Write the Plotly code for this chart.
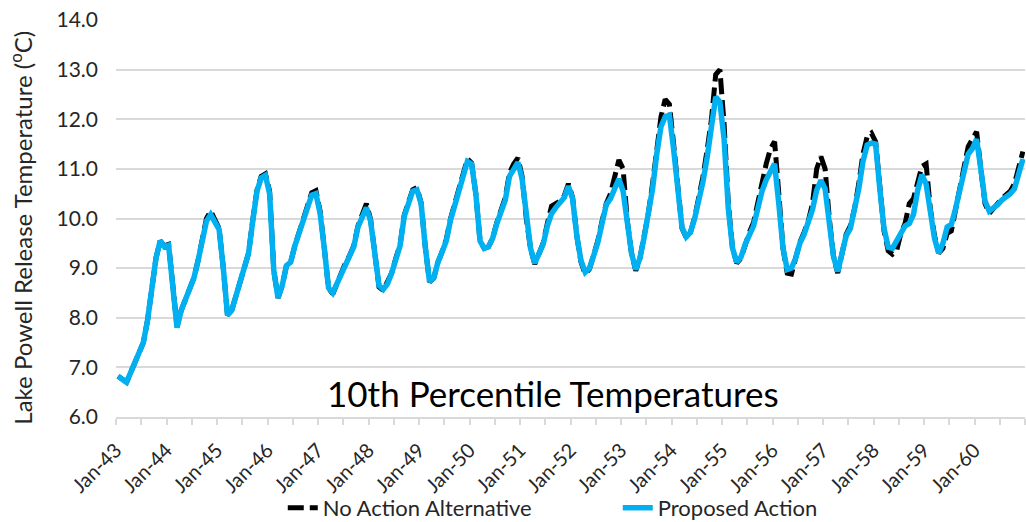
import plotly.graph_objects as go

years = list(range(43, 61))
months = ["Jan", "Feb", "Mar", "Apr", "May", "Jun", "Jul", "Aug", "Sep", "Oct", "Nov", "Dec"]
categories = [f"{m}-{y}" for y in years for m in months]

proposed_action = [
    6.82, 6.76, 6.70, 6.90, 7.10, 7.35, 7.50, 7.95, 8.65, 9.20, 9.55, 9.43,          # 1943
    9.46, 8.70, 7.80, 8.15, 8.35, 8.55, 8.80, 9.15, 9.60, 9.95, 10.08, 9.90,        # 1944
    9.78, 9.00, 8.05, 8.15, 8.45, 8.75, 9.00, 9.30, 9.95, 10.55, 10.82, 10.87,      # 1945
    10.50, 8.95, 8.40, 8.65, 9.05, 9.12, 9.45, 9.70, 9.95, 10.25, 10.47, 10.50,     # 1946
    10.10, 9.40, 8.60, 8.50, 8.70, 8.89, 9.10, 9.25, 9.43, 9.83, 10.00, 10.22,      # 1947
    9.95, 9.23, 8.65, 8.57, 8.68, 8.90, 9.15, 9.45, 10.05, 10.32, 10.55, 10.58,     # 1948
    10.30, 9.42, 8.73, 8.80, 9.12, 9.33, 9.55, 9.97, 10.25, 10.55, 10.85, 11.15,    # 1949
    11.10, 10.50, 9.55, 9.40, 9.43, 9.60, 9.90, 10.13, 10.37, 10.85, 11.02, 11.13,  # 1950
    10.80, 10.00, 9.40, 9.10, 9.30, 9.48, 9.85, 10.10, 10.22, 10.33, 10.42, 10.65,  # 1951
    10.40, 9.65, 9.15, 8.92, 9.00, 9.25, 9.52, 9.90, 10.28, 10.40, 10.60, 10.80,    # 1952
    10.55, 9.90, 9.30, 8.97, 9.20, 9.62, 10.05, 10.60, 11.30, 11.85, 12.05, 12.08,  # 1953
    11.40, 10.50, 9.82, 9.63, 9.72, 10.00, 10.35, 10.75, 11.25, 11.80, 12.45, 12.35,# 1954
    11.60, 10.20, 9.40, 9.12, 9.22, 9.48, 9.70, 9.85, 10.20, 10.55, 10.78, 10.95,   # 1955
    11.10, 10.30, 9.40, 8.97, 9.00, 9.20, 9.50, 9.68, 9.90, 10.18, 10.57, 10.77,    # 1956
    10.60, 9.90, 9.23, 8.93, 9.25, 9.65, 9.80, 10.15, 10.60, 11.15, 11.48, 11.52,   # 1957
    11.50, 10.60, 9.80, 9.42, 9.40, 9.55, 9.72, 9.85, 9.90, 10.08, 10.57, 10.88,    # 1958
    10.70, 10.10, 9.60, 9.30, 9.50, 9.83, 9.88, 10.20, 10.60, 11.00, 11.30, 11.41,  # 1959
    11.60, 11.00, 10.35, 10.15, 10.20, 10.28, 10.37, 10.43, 10.50, 10.60, 10.95, 11.20,  # 1960
]

no_action = [
    6.82, 6.76, 6.70, 6.90, 7.10, 7.35, 7.50, 7.95, 8.65, 9.20, 9.55, 9.45,          # 1943
    9.48, 8.70, 7.82, 8.15, 8.35, 8.55, 8.80, 9.15, 9.62, 10.00, 10.15, 9.95,       # 1944
    9.80, 9.00, 8.05, 8.15, 8.45, 8.75, 9.00, 9.30, 9.97, 10.57, 10.85, 10.90,      # 1945
    10.55, 8.95, 8.40, 8.65, 9.05, 9.12, 9.45, 9.72, 9.97, 10.28, 10.52, 10.56,     # 1946
    10.15, 9.40, 8.60, 8.48, 8.70, 8.89, 9.10, 9.25, 9.45, 9.85, 10.05, 10.30,      # 1947
    9.98, 9.23, 8.62, 8.55, 8.75, 8.90, 9.20, 9.47, 10.07, 10.35, 10.58, 10.62,     # 1948
    10.32, 9.42, 8.72, 8.80, 9.12, 9.33, 9.58, 10.00, 10.28, 10.60, 10.90, 11.20,   # 1949
    11.12, 10.50, 9.55, 9.40, 9.43, 9.60, 9.92, 10.15, 10.42, 10.92, 11.10, 11.22,  # 1950
    10.85, 10.00, 9.40, 9.08, 9.30, 9.50, 9.90, 10.25, 10.30, 10.35, 10.45, 10.70,  # 1951
    10.42, 9.65, 9.12, 8.88, 8.98, 9.25, 9.55, 9.95, 10.30, 10.50, 10.85, 11.18,    # 1952
    11.00, 9.95, 9.30, 8.95, 9.20, 9.65, 10.10, 10.70, 11.45, 12.05, 12.40, 12.30,  # 1953
    11.50, 10.55, 9.80, 9.62, 9.72, 10.02, 10.40, 10.85, 11.40, 12.00, 12.90, 13.00,# 1954
    11.90, 10.30, 9.40, 9.10, 9.20, 9.48, 9.72, 9.92, 10.35, 10.80, 11.10, 11.40,   # 1955
    11.55, 10.50, 9.40, 8.90, 8.88, 9.20, 9.52, 9.72, 9.95, 10.30, 11.00, 11.25,    # 1956
    11.00, 10.00, 9.23, 8.90, 9.25, 9.68, 9.85, 10.20, 10.70, 11.30, 11.65, 11.72,  # 1957
    11.55, 10.60, 9.75, 9.35, 9.28, 9.35, 9.70, 9.90, 10.30, 10.40, 10.70, 11.05,   # 1958
    11.10, 10.20, 9.65, 9.30, 9.40, 9.70, 9.75, 10.20, 10.65, 11.10, 11.45, 11.60,  # 1959
    11.75, 11.00, 10.30, 10.10, 10.22, 10.30, 10.40, 10.48, 10.55, 10.70, 11.05, 11.35,  # 1960
]

tick_labels = [f"Jan-{y}" for y in years]

x_idx = list(range(len(categories)))
tickvals = []
ticktext = []
for k, lab in enumerate(tick_labels):
    tickvals += [12 * k - 0.5, 12 * k + 5.5]
    ticktext += [lab, ""]
tickvals.append(len(categories) - 0.5)
ticktext.append("")

FONT = "Lato, 'Open Sans', sans-serif"

fig = go.Figure()
fig.add_trace(go.Scatter(
    x=x_idx, y=no_action, mode="lines", name="No Action Alternative",
    line=dict(color="#000000", width=5, dash="16px,6px"),
    customdata=categories,
))
fig.add_trace(go.Scatter(
    x=x_idx, y=proposed_action, mode="lines", name="Proposed Action",
    line=dict(color="#00B0F0", width=5.5),
    customdata=categories,
))

fig.update_layout(
    width=1026, height=522,
    margin=dict(l=116, r=1, t=20, b=105, autoexpand=False),
    paper_bgcolor="white", plot_bgcolor="white",
    font=dict(family=FONT, color="#262626"),
    showlegend=True,
    legend=dict(orientation="h", x=0.552, xanchor="center", y=-0.229, yanchor="middle",
                font=dict(size=22, color="#262626"), bgcolor="rgba(0,0,0,0)",
                entrywidth=290, entrywidthmode="pixels", tracegroupgap=0),
    xaxis=dict(
        range=[-0.5, len(categories) - 0.5],
        tickmode="array", tickvals=tickvals, ticktext=ticktext,
        tickangle=-45, tickfont=dict(size=20, color="#262626"),
        ticks="outside", ticklen=6, tickcolor="#d9d9d9", tickwidth=1.5,
        ticklabelstandoff=6,
        showgrid=False, showline=True, linecolor="#d9d9d9", linewidth=1.5,
        zeroline=False,
    ),
    yaxis=dict(
        range=[6, 14], dtick=1, tick0=6, tickformat=".1f",
        tickfont=dict(size=21, color="#262626"),
        showgrid=True, gridcolor="#d9d9d9", gridwidth=1.5,
        zeroline=False, showline=False, ticks="", ticklabelstandoff=17,
    ),
    annotations=[
        dict(text="10th Percentile Temperatures", x=0.481, y=0.06, xref="paper", yref="paper",
             xanchor="center", yanchor="middle", showarrow=False,
             font=dict(size=35, color="#000000")),
        dict(text="Lake Powell Release Temperature (<sup>o</sup>C)", x=-0.1045, y=0.477,
             xref="paper", yref="paper", xanchor="center", yanchor="middle", textangle=-90,
             showarrow=False, font=dict(size=24, color="#262626")),
    ],
)

fig.write_html("out.html")
